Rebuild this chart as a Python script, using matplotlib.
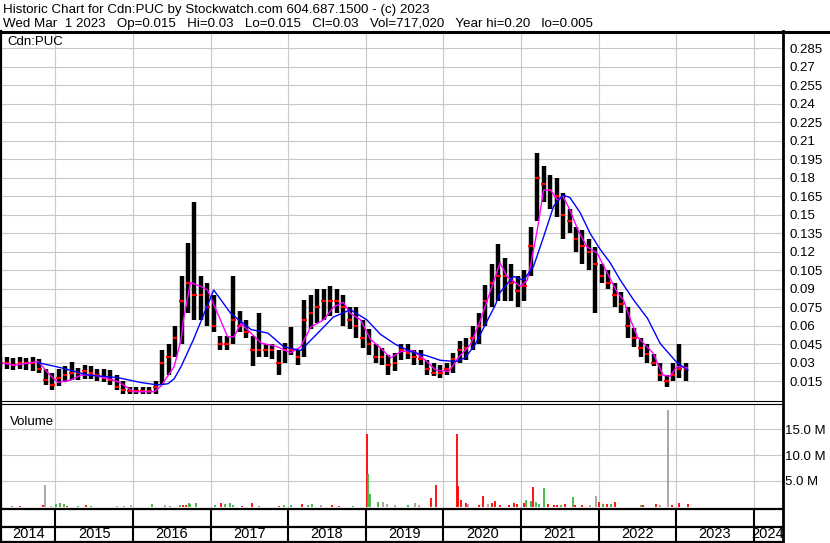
import numpy as np
import pandas as pd
import matplotlib
matplotlib.use('Agg')
import matplotlib.pyplot as plt
from matplotlib.lines import Line2D

plt.rcParams['font.family'] = ['Liberation Sans', 'DejaVu Sans']

# monthly high / low / close, Apr 2014 - Feb 2023
months = pd.period_range('2014-04', '2023-02', freq='M')
high = [.035, .035, .034, .035, .034, .035, .033, .025, .022,
        .025, .027, .031, .026, .028, .027, .025, .025, .024, .02, .015, .01,
        .01, .01, .01, .015, .04, .045, .06, .1, .127, .16, .1, .095,
        .085, .052, .052, .1, .072, .065, .052, .07, .045, .045, .04, .046,
        .059, .04, .081, .085, .09, .09, .092, .09, .085, .075, .075, .065,
        .057, .045, .042, .036, .038, .045, .045, .04, .04, .032, .03, .028,
        .03, .038, .048, .05, .06, .07, .093, .11, .126, .115, .11, .1,
        .105, .14, .2, .19, .182, .18, .168, .155, .14, .138, .13, .124,
        .11, .105, .095, .087, .075, .058, .05, .045, .037, .03, .02, .03,
        .045, .03]
low = [.025, .025, .024, .025, .024, .023, .022, .012, .008,
       .011, .014, .016, .016, .017, .017, .015, .014, .012, .008, .005, .005,
       .005, .005, .005, .005, .012, .02, .035, .045, .07, .065, .065, .06,
       .055, .04, .04, .045, .055, .05, .027, .035, .035, .033, .02, .03,
       .036, .028, .035, .057, .062, .065, .068, .07, .06, .057, .05, .042,
       .036, .03, .028, .02, .023, .032, .033, .028, .028, .02, .019, .018,
       .02, .022, .03, .032, .04, .045, .06, .075, .08, .08, .08, .075,
       .08, .1, .145, .16, .155, .148, .13, .135, .12, .11, .105, .07,
       .095, .09, .075, .07, .05, .043, .035, .03, .027, .015, .01, .015,
       .018, .015]
close = [.03, .03, .028, .03, .03, .03, .025, .016, .012,
         .018, .02, .022, .022, .023, .022, .02, .018, .016, .01, .008, .0075,
         .0075, .0075, .0075, .01, .03, .035, .05, .08, .095, .085, .085, .075,
         .06, .045, .045, .065, .06, .055, .04, .04, .04, .04, .03, .04,
         .04, .035, .065, .07, .075, .08, .08, .08, .075, .065, .06, .05,
         .045, .035, .035, .028, .03, .04, .038, .035, .033, .025, .022, .022,
         .025, .033, .04, .042, .05, .06, .08, .095, .1, .1, .095, .088,
         .092, .125, .18, .175, .17, .165, .15, .145, .13, .125, .12, .11,
         .1, .095, .085, .078, .06, .05, .042, .037, .03, .02, .015, .02,
         .025, .025]

# moving averages (decimal year, price)
ma_short_t = [2014.30, 2014.47, 2014.78, 2014.90, 2015.03, 2015.20, 2015.33, 2015.50,
              2015.80, 2016.01, 2016.27, 2016.36, 2016.53, 2016.62, 2016.65, 2016.74,
              2016.87, 2016.96, 2017.09, 2017.22, 2017.30, 2017.39, 2017.52, 2017.65,
              2017.86, 2018.03, 2018.16, 2018.29, 2018.46, 2018.58, 2018.71, 2018.80,
              2018.93, 2019.06, 2019.19, 2019.32, 2019.45, 2019.60, 2019.77, 2019.90,
              2020.07, 2020.19, 2020.35, 2020.48, 2020.61, 2020.73, 2020.82, 2020.99,
              2021.08, 2021.12, 2021.21, 2021.29, 2021.38, 2021.47, 2021.54, 2021.63,
              2021.73, 2021.85, 2021.98, 2022.11, 2022.24, 2022.32, 2022.41, 2022.50,
              2022.70, 2022.83, 2022.92, 2023.01, 2023.14]
ma_short = [.03, .028, .031, .022, .014, .016, .02, .02,
            .015, .0065, .0065, .011, .027, .049, .065, .095,
            .092, .089, .07, .051, .051, .062, .054, .046,
            .043, .038, .043, .059, .065, .075, .079, .07,
            .065, .049, .042, .034, .039, .04, .032, .024,
            .023, .034, .045, .065, .089, .111, .1, .092,
            .097, .108, .138, .17, .17, .162, .165, .154,
            .138, .124, .119, .103, .087, .081, .065, .051,
            .038, .02, .019, .027, .026]
ma_long_t = [2014.78, 2015.07, 2015.42, 2015.80, 2016.10, 2016.32, 2016.45, 2016.53,
             2016.62, 2016.78, 2017.04, 2017.26, 2017.52, 2017.74, 2017.94, 2018.16,
             2018.38, 2018.58, 2018.80, 2019.01, 2019.19, 2019.38, 2019.58, 2019.77,
             2019.96, 2020.16, 2020.28, 2020.41, 2020.54, 2020.67, 2020.73, 2020.90,
             2021.03, 2021.16, 2021.29, 2021.42, 2021.54, 2021.63, 2021.76, 2021.89,
             2022.02, 2022.15, 2022.28, 2022.45, 2022.63, 2022.79, 2022.83, 2023.01,
             2023.15]
ma_long = [.03, .026, .02, .018, .014, .012, .013, .017,
           .027, .049, .089, .07, .057, .054, .043, .04,
           .054, .067, .073, .065, .053, .045, .039, .036,
           .032, .031, .034, .045, .061, .077, .087, .1,
           .097, .108, .132, .157, .166, .164, .152, .135,
           .122, .111, .097, .081, .066, .046, .043, .03,
           .024]

# volume (decimal year, millions of shares, u=up d=down n=unchanged)
vol_t = [2014.44, 2014.54, 2014.84, 2014.87, 2014.94, 2015.01, 2015.06, 2015.11, 2015.15,
         2015.29, 2015.39, 2015.46, 2015.79, 2015.89, 2015.97, 2016.24, 2016.41, 2016.47,
         2016.60, 2016.65, 2016.68, 2016.72, 2016.74, 2016.81, 2017.05, 2017.14, 2017.19,
         2017.25, 2017.29, 2017.40, 2017.53, 2017.62, 2017.88, 2017.94, 2018.04, 2018.18,
         2018.25, 2018.31, 2018.42, 2018.56, 2018.66, 2018.83, 2019.01, 2019.03, 2019.05,
         2019.16, 2019.22, 2019.27, 2019.37, 2019.54, 2019.64, 2019.68, 2019.84, 2019.91,
         2020.17, 2020.19, 2020.22, 2020.29, 2020.32, 2020.46, 2020.51, 2020.58, 2020.62,
         2020.67, 2020.73, 2020.84, 2020.91, 2020.95, 2021.04, 2021.07, 2021.13, 2021.16,
         2021.19, 2021.23, 2021.30, 2021.35, 2021.42, 2021.46, 2021.52, 2021.57, 2021.67,
         2021.69, 2021.79, 2021.89, 2021.97, 2022.00, 2022.06, 2022.11, 2022.16, 2022.21,
         2022.54, 2022.57, 2022.74, 2022.79, 2022.90, 2022.95, 2023.04, 2023.15]
vol_m = [0.1, 0.1, 0.3, 4.2, 0.1, 0.5, 0.7, 0.4, 0.1,
         0.1, 0.2, 0.1, 0.1, 0.1, 0.2, 0.4, 0.2, 0.1,
         0.2, 0.3, 0.2, 0.6, 0.4, 0.6, 0.3, 0.6, 0.5,
         0.7, 0.3, 0.1, 0.7, 0.1, 0.1, 0.2, 0.2, 0.4,
         0.3, 0.5, 0.2, 0.2, 0.1, 0.1, 14.2, 6.3, 2.4,
         0.8, 0.8, 0.5, 0.3, 0.2, 0.7, 0.3, 1.7, 4.2,
         14.1, 3.9, 1.3, 0.7, 0.4, 0.3, 2.0, 0.5, 0.6,
         1.0, 0.2, 0.2, 0.6, 0.5, 0.6, 1.3, 1.0, 3.7,
         0.8, 0.5, 3.6, 0.5, 0.3, 0.2, 0.3, 0.5, 1.9,
         0.3, 0.3, 0.2, 2.0, 0.8, 0.4, 0.5, 0.4, 0.9,
         0.2, 0.2, 0.4, 0.2, 18.8, 0.2, 0.6, 0.4]
vol_kind = list('uddnnuuududunnnunu'
                'udduuuudu'
                'uudduduudu'
                'unddudu' 'uunnnunnddd'
                'dddnddndd'
                'dddddu'
                'udu'
                'uudddududdnn'
                'dudududdnn'
                'dd' 'du')

years = list(range(2014, 2025))
price_ticks = np.arange(0.015, 0.29, 0.015)
vol_ticks = [5, 10, 15]

W, H = 830, 543
def fx(px):
    return px / W
def fy(py):
    return 1 - py / H

fig = plt.figure(figsize=(8.3, 5.43), dpi=100)
fig.patch.set_facecolor('white')

x0, x1 = 2014.2986, 2024.363
grid_c = '#c8c8c8'

def style(ax):
    for s in ax.spines.values():
        s.set_visible(False)
    ax.set_xlim(x0, x1)
    ax.set_xticks(years[1:])
    ax.tick_params(axis='x', length=0, labelbottom=False)
    ax.grid(True, color=grid_c, lw=0.8)
    ax.set_axisbelow(True)
    ax.yaxis.tick_right()
    ax.tick_params(axis='y', length=0, labelsize=9.5)

# price panel
ax = fig.add_axes([fx(1), fy(400.5), fx(782) - fx(1), fy(31) - fy(400.5)])
style(ax)
ax.set_ylim(-0.0006, 0.2991)
ax.set_yticks(price_ticks)
ax.set_yticklabels([f'{v:.3f}'.rstrip('0') for v in price_ticks])
ax.tick_params(axis='y', pad=5.5)

t = np.array([p.year + (p.month - 0.5) / 12 for p in months])
half = 0.36 / 12
ax.vlines(t, low, high, color='black', lw=3.2)
ax.hlines(close, t - half, t + half, color='red', lw=1.6)
ax.plot(ma_short_t, ma_short, color='#ff00ff', lw=1)
ax.plot(ma_long_t, ma_long, color='#0000ff', lw=1)
ax.text(0.0085, 0.962, 'Cdn:PUC', transform=ax.transAxes, fontsize=9.5)

# volume panel
axv = fig.add_axes([fx(1), fy(509), fx(782) - fx(1), fy(404) - fy(509)])
style(axv)
axv.set_ylim(-0.486, 19.94)
axv.set_yticks(vol_ticks)
axv.set_yticklabels([f'{v:.1f} M' for v in vol_ticks])
axv.tick_params(axis='y', pad=2.5)
cmap = {'u': '#3cb43c', 'd': '#ff0000', 'n': '#a0a0a0'}
axv.vlines(vol_t, 0, vol_m, colors=[cmap[k] for k in vol_kind], lw=1.3)
axv.text(0.011, 0.80, 'Volume', transform=axv.transAxes, fontsize=9.5)

# date strip
axd = fig.add_axes([fx(1), fy(542), fx(782) - fx(1), fy(509) - fy(542)])
axd.set_xlim(x0, x1)
axd.set_ylim(0, 1)
axd.axis('off')
for y in years[1:]:
    axd.axvline(y, color='black', lw=1.5)
edges = [x0] + years[1:] + [x1]
for i, y in enumerate(years):
    axd.text((edges[i] + edges[i + 1]) / 2, 0.23, str(y), ha='center', va='center',
             fontsize=10.5)

def line(xs, ys, lw):
    fig.add_artist(Line2D([fx(v) for v in xs], [fy(v) for v in ys], color='black',
                          lw=lw, transform=fig.transFigure))

line([0, W], [31.5, 31.5], 2.2)
line([1, 1], [31, H], 1.6)
line([782.5, 782.5], [31, H], 2.0)
line([0, 782], [401, 401], 0.8)
line([0, 782], [404, 404], 0.8)
line([0, 782], [509, 509], 1.6)
line([0, 782], [527, 527], 1.6)
line([0, 782], [542, 542], 1.6)

fig.text(fx(3), fy(13.5), 'Historic Chart for Cdn:PUC by Stockwatch.com 604.687.1500 - (c) 2023',
         fontsize=9.6, va='baseline')
fig.text(fx(3), fy(27.5), 'Wed Mar  1 2023   Op=0.015   Hi=0.03   Lo=0.015   Cl=0.03   '
         'Vol=717,020   Year hi=0.20   lo=0.005', fontsize=9.6, va='baseline')

fig.savefig('out.png', dpi=100)
